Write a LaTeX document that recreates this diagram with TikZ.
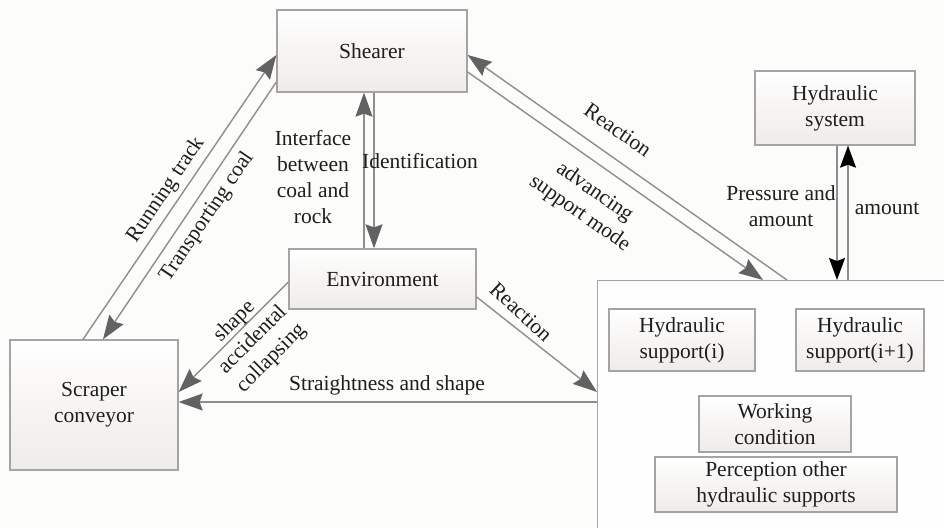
\documentclass[tikz,border=0pt]{standalone}
\usepackage{fontspec}
\setmainfont{Liberation Serif}
\usetikzlibrary{arrows.meta,calc,shapes.geometric}
\definecolor{bgpaper}{HTML}{FCFCFA}
\definecolor{edgegray}{HTML}{A4A4A4}
\definecolor{linkgray}{HTML}{8E8E8E}
\definecolor{headgray}{HTML}{626262}
\definecolor{inkdark}{HTML}{1E1E1E}
\definecolor{boxshade}{HTML}{EFEBE8}
\tikzset{
  blockbox/.style={draw=edgegray, line width=1.3pt, top color=white, bottom color=boxshade,
    align=center, inner sep=0pt, text=inkdark},
  link/.style={draw=linkgray, line width=1.4pt,
    -{Stealth[length=24pt,width=17pt,inset=3pt,color=headgray,fill=headgray]}},
  blacklink/.style={draw=linkgray, line width=1.4pt,
    -{Stealth[length=22pt,width=16pt,inset=3pt,color=black,fill=black]}},
  lbl/.style={align=center, text=inkdark, inner sep=0pt},
}
\begin{document}
\begin{tikzpicture}[x=1pt,y=-1pt,font=\fontsize{21.5}{26}\selectfont]
\useasboundingbox (0,0) rectangle (944,527);
\clip (0,0) rectangle (944,527);
\fill[bgpaper] (0,0) rectangle (944,527);

% outer frame of the support group
\node[draw=edgegray, line width=1.3pt, fill=white!97!boxshade, minimum width=380pt, minimum height=270pt,
  inner sep=0pt, anchor=north west] (group) at (597,280) {};

% main blocks
\node[blockbox, minimum width=190pt, minimum height=82pt] (shearer) at (372,51) {Shearer};
\node[blockbox, minimum width=160pt, minimum height=74pt] (hyd) at (835,108) {Hydraulic\\system};
\node[blockbox, minimum width=187pt, minimum height=60pt] (env) at (382.5,279) {Environment};
\node[blockbox, minimum width=168pt, minimum height=130pt] (scraper) at (94,405) {Scraper\\conveyor};

% blocks inside the support group
\node[blockbox, minimum width=146pt, minimum height=62pt] (hsi) at (682,340) {Hydraulic\\support(i)};
\node[blockbox, minimum width=128pt, minimum height=62pt] (hsj) at (860,340) {Hydraulic\\support(i+1)};
\node[blockbox, minimum width=152pt, minimum height=56pt] (work) at (775,424) {Working\\condition};
\node[blockbox, minimum width=242pt, minimum height=55pt] (perc) at (776,484.5) {Perception other\\hydraulic supports};

% shearer <-> scraper conveyor
\draw[link] ([xshift=-11pt]scraper.north) -- ([yshift=-4pt]shearer.west);
\draw[link] ([yshift=-31pt]shearer.west) -- ([xshift=9pt]scraper.north);

% shearer <-> environment
\draw[link] ([xshift=-8pt]shearer.south |- env.north) -- ([xshift=-8pt]shearer.south);
\draw[link] ([xshift=2pt]shearer.south) -- ([xshift=2pt]shearer.south |- env.north);

% shearer <-> support group
\draw[link] ([xshift=190pt]group.north west) -- ([yshift=-4pt]shearer.east);
\draw[link] ([yshift=-21pt]shearer.east) -- ([xshift=166pt]group.north west);

% hydraulic system <-> support group
\draw[blacklink] ([xshift=2pt]hyd.south) -- ([xshift=2pt]hyd.south |- group.north);
\draw[blacklink] ([xshift=13pt]hyd.south |- group.north) -- ([xshift=13pt]hyd.south);

% environment -> support group and scraper conveyor
\draw[link] ([yshift=-18pt]env.east) -- ([yshift=-112pt]group.north west);
\draw[link] ([yshift=-3pt]env.west) -- ([yshift=13pt]scraper.east);

% support group -> scraper conveyor
\draw[link] ([yshift=-122pt]group.north west) -- ([yshift=-122pt]group.north west -| scraper.east);

% connector labels
\node[lbl, rotate=56] (lrun) at (166,190) {Running track};
\node[lbl, rotate=56] (ltrans) at (207,217) {Transporting coal};
\node[lbl] (lintf) at (313,177) {Interface\\between\\coal and\\rock};
\node[lbl] (lident) at (420,161) {Identification};
\node[lbl, rotate=-35] (lreact) at (618,130) {Reaction};
\node[lbl, rotate=-35] (ladv) at (587,203) {advancing\\support mode};
\node[lbl] (lpress) at (781,206) {Pressure and\\amount};
\node[lbl] (lamount) at (887,209) {amount};
\node[lbl, rotate=45] (lshape) at (253,340) {shape\\accidental\\collapsing};
\node[lbl, rotate=-43] (lreact2) at (521,312) {Reaction};
\node[lbl] (lstraight) at (387,385) {Straightness and shape};
\end{tikzpicture}
\end{document}
